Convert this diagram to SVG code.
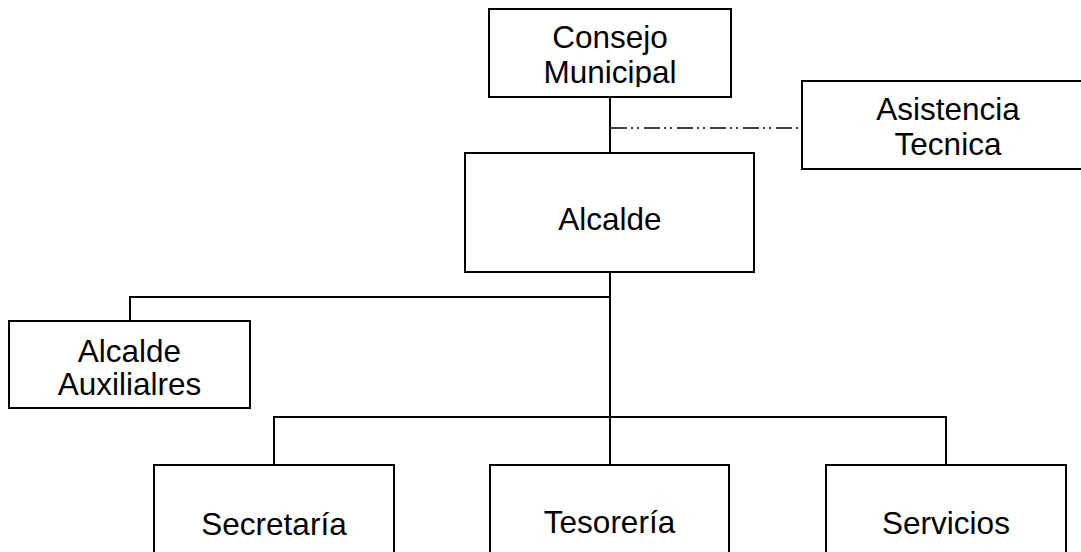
<svg xmlns="http://www.w3.org/2000/svg" width="1081" height="552" viewBox="0 0 1081 552">
<style>
.box{fill:#fff;stroke:#000;stroke-width:2}
.t{font-family:"Liberation Sans",Arial,sans-serif;font-size:31.5px;fill:#000;text-anchor:middle}
.c{stroke:#000;stroke-width:2;fill:none}
.d{stroke:#000;stroke-width:1.6;fill:none;stroke-dasharray:16 4 2 4 2 5}
</style>
<defs>
<clipPath id="clipConsejo"><rect x="490" y="10" width="240" height="77"/></clipPath>
</defs>
<rect width="1081" height="552" fill="#fff"/>
<g id="connectors">
<line class="c" x1="610" y1="97" x2="610" y2="153"/>
<line class="d" x1="611" y1="128" x2="802" y2="128"/>
<line class="c" x1="610" y1="272" x2="610" y2="465"/>
<polyline class="c" points="610,297 130,297 130,321"/>
<polyline class="c" points="274,465 274,417 946,417 946,465"/>
</g>
<g id="consejo">
<rect class="box" x="489" y="9" width="242" height="88"/>
<g clip-path="url(#clipConsejo)">
<text class="t" x="610" y="48">Consejo</text>
<text class="t" x="610" y="83">Municipal</text>
</g>
</g>
<g id="asistencia">
<rect class="box" x="802" y="81" width="290" height="88"/>
<text class="t" x="948" y="120">Asistencia</text>
<text class="t" x="948" y="155">Tecnica</text>
</g>
<g id="alcalde">
<rect class="box" x="465" y="153" width="289" height="119"/>
<text class="t" x="610" y="230">Alcalde</text>
</g>
<g id="auxiliares">
<rect class="box" x="9" y="321" width="241" height="87"/>
<text class="t" x="129.5" y="362">Alcalde</text>
<text class="t" x="129.5" y="395">Auxilialres</text>
</g>
<g id="secretaria">
<rect class="box" x="154" y="465" width="240" height="100"/>
<text class="t" x="274" y="535">Secretaría</text>
</g>
<g id="tesoreria">
<rect class="box" x="490" y="465" width="239" height="100"/>
<text class="t" x="609.5" y="533">Tesorería</text>
</g>
<g id="servicios">
<rect class="box" x="826" y="465" width="240" height="100"/>
<text class="t" x="946" y="534">Servicios</text>
</g>
</svg>
